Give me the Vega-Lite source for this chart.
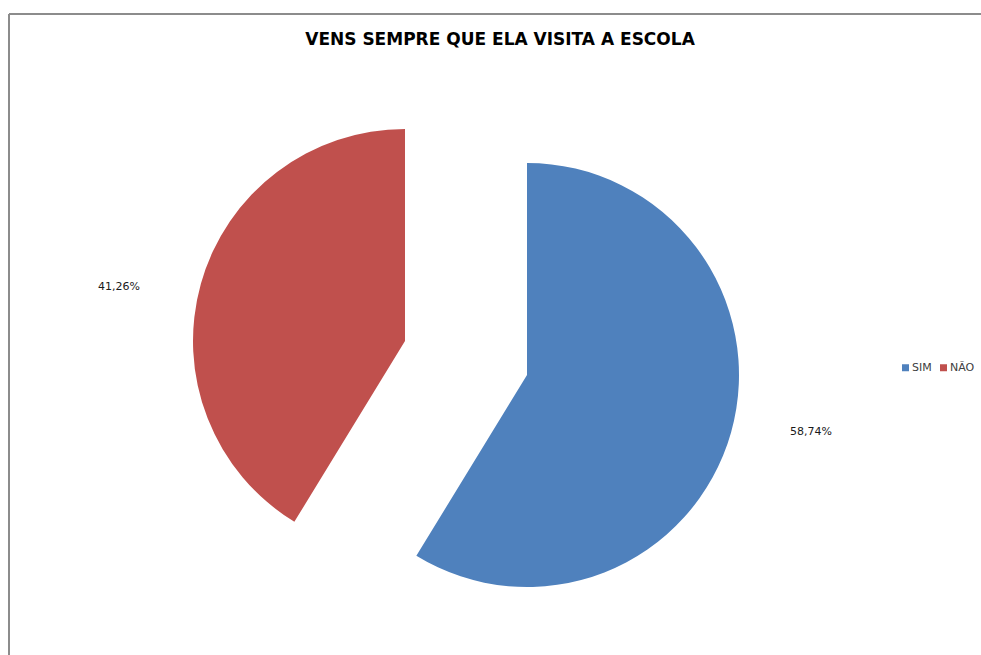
{
  "$schema": "https://vega.github.io/schema/vega-lite/v6.json",
  "width": 972,
  "height": 641,
  "autosize": {"type": "none"},
  "padding": {"left": 9, "top": 14, "right": 0, "bottom": 0},
  "background": "white",
  "view": {"stroke": "#8c8c8c", "strokeWidth": 2, "strokeDash": [972, 1613, 641, 0]},
  "title": {
    "text": "VENS SEMPRE QUE ELA VISITA A ESCOLA",
    "font": "DejaVu Sans",
    "fontSize": 17,
    "fontWeight": "bold",
    "color": "#000000",
    "anchor": "middle",
    "baseline": "middle",
    "offset": -28,
    "dy": 15,
    "dx": 5
  },
  "config": {
    "locale": {
      "number": {"decimal": ",", "thousands": ".", "grouping": [3], "currency": ["", " €"]}
    },
    "view": {"stroke": "#8c8c8c", "strokeWidth": 2, "strokeDash": [972, 1613, 641, 0]},
    "legend": {
      "orient": "none",
      "legendX": 891,
      "legendY": 348,
      "direction": "horizontal",
      "title": null,
      "symbolType": "square",
      "symbolSize": 49,
      "symbolStrokeWidth": 0,
      "labelFont": "DejaVu Sans",
      "labelFontSize": 11,
      "labelColor": "#404040",
      "labelOffset": 1,
      "columnPadding": 6,
      "padding": 0
    }
  },
  "data": {
    "values": [
      {"cat": "SIM", "pct": 0.5874},
      {"cat": "NÃO", "pct": 0.4126}
    ]
  },
  "encoding": {
    "theta": {"field": "pct", "type": "quantitative", "stack": true},
    "order": {"field": "pct", "sort": "descending"},
    "color": {
      "field": "cat",
      "type": "nominal",
      "scale": {"domain": ["SIM", "NÃO"], "range": ["#4F81BD", "#C0504D"]}
    }
  },
  "layer": [
    {
      "mark": {"type": "arc", "outerRadius": 212, "xOffset": 32, "yOffset": 40.5},
      "encoding": {
        "opacity": {"condition": {"test": "datum.cat === 'SIM'", "value": 1}, "value": 0}
      }
    },
    {
      "mark": {"type": "arc", "outerRadius": 212, "xOffset": -90, "yOffset": 6.5},
      "encoding": {
        "opacity": {"condition": {"test": "datum.cat === 'NÃO'", "value": 1}, "value": 0}
      }
    },
    {
      "mark": {"type": "text", "radius": 295, "xOffset": 32, "yOffset": 17.5, "font": "DejaVu Sans", "fontSize": 11, "align": "center", "baseline": "middle"},
      "encoding": {
        "text": {"field": "pct", "type": "quantitative", "format": ".2%"},
        "color": {"value": "#1a1a1a"},
        "opacity": {"condition": {"test": "datum.cat === 'SIM'", "value": 1}, "value": 0}
      }
    },
    {
      "mark": {"type": "text", "radius": 295, "xOffset": -92, "yOffset": 32.5, "font": "DejaVu Sans", "fontSize": 11, "align": "center", "baseline": "middle"},
      "encoding": {
        "text": {"field": "pct", "type": "quantitative", "format": ".2%"},
        "color": {"value": "#1a1a1a"},
        "opacity": {"condition": {"test": "datum.cat === 'NÃO'", "value": 1}, "value": 0}
      }
    }
  ]
}
